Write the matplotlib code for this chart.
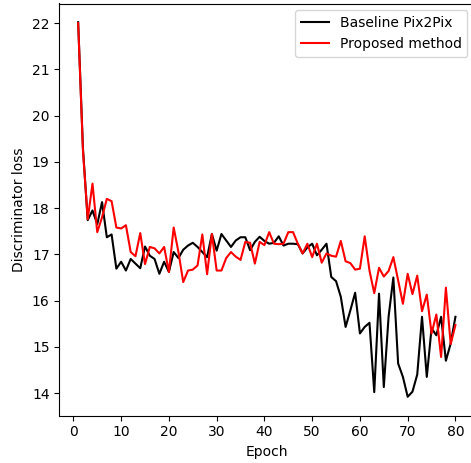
import numpy as np
import matplotlib
matplotlib.use('Agg')
import matplotlib.pyplot as plt

# discriminator loss per epoch
epochs = np.arange(1, 81)

baseline = [22.02, 19.3, 17.74, 17.95, 17.65, 18.13, 17.37, 17.43, 16.69, 16.84,
            16.65, 16.9, 16.8, 16.7, 17.17, 16.97, 16.9, 16.58, 16.84, 16.62,
            17.05, 16.92, 17.1, 17.19, 17.25, 17.16, 17.05, 16.94, 17.44, 17.08,
            17.44, 17.3, 17.16, 17.3, 17.37, 17.37, 17.09, 17.27, 17.38, 17.29,
            17.23, 17.25, 17.39, 17.19, 17.23, 17.23, 17.22, 17.02, 17.15, 17.23,
            16.98, 17.1, 17.23, 16.51, 16.42, 16.08, 15.43, 15.79, 16.17, 15.29,
            15.43, 15.52, 14.02, 16.15, 14.13, 15.65, 16.5, 14.64, 14.35, 13.92,
            14.03, 14.4, 15.65, 14.35, 15.4, 15.25, 15.65, 14.7, 15.07, 15.65]

proposed = [22.0, 19.25, 17.76, 18.53, 17.48, 17.8, 18.2, 18.15, 17.58, 17.56,
            17.63, 17.05, 16.96, 17.46, 16.79, 17.16, 17.13, 17.02, 17.16, 16.62,
            17.58, 17.05, 16.4, 16.65, 16.67, 16.76, 17.43, 16.57, 17.44, 16.65,
            16.65, 16.92, 17.05, 16.95, 16.88, 17.27, 17.25, 16.8, 17.27, 17.2,
            17.48, 17.23, 17.22, 17.23, 17.48, 17.48, 17.23, 17.02, 17.23, 16.94,
            17.23, 16.82, 17.02, 16.97, 16.95, 17.29, 16.85, 16.81, 16.67, 16.69,
            17.39, 16.65, 16.16, 16.71, 16.52, 16.64, 16.94, 16.44, 15.93, 16.58,
            16.14, 16.54, 15.77, 16.13, 15.29, 15.7, 14.78, 16.28, 15.06, 15.47]

fig = plt.figure(figsize=(4.71, 4.63), dpi=100)
ax = fig.add_axes([59.3 / 471, 47.5 / 463, 415 / 471, 412 / 463])

ax.plot(epochs, baseline, color='black', label='Baseline Pix2Pix')
ax.plot(epochs, proposed, color='red', label='Proposed method')

ax.set_xticks(np.arange(0, 81, 10))
ax.set_xlabel('Epoch')
ax.set_ylabel('Discriminator loss')
ax.legend(loc='upper right')

fig.savefig('out.png', dpi=100)
